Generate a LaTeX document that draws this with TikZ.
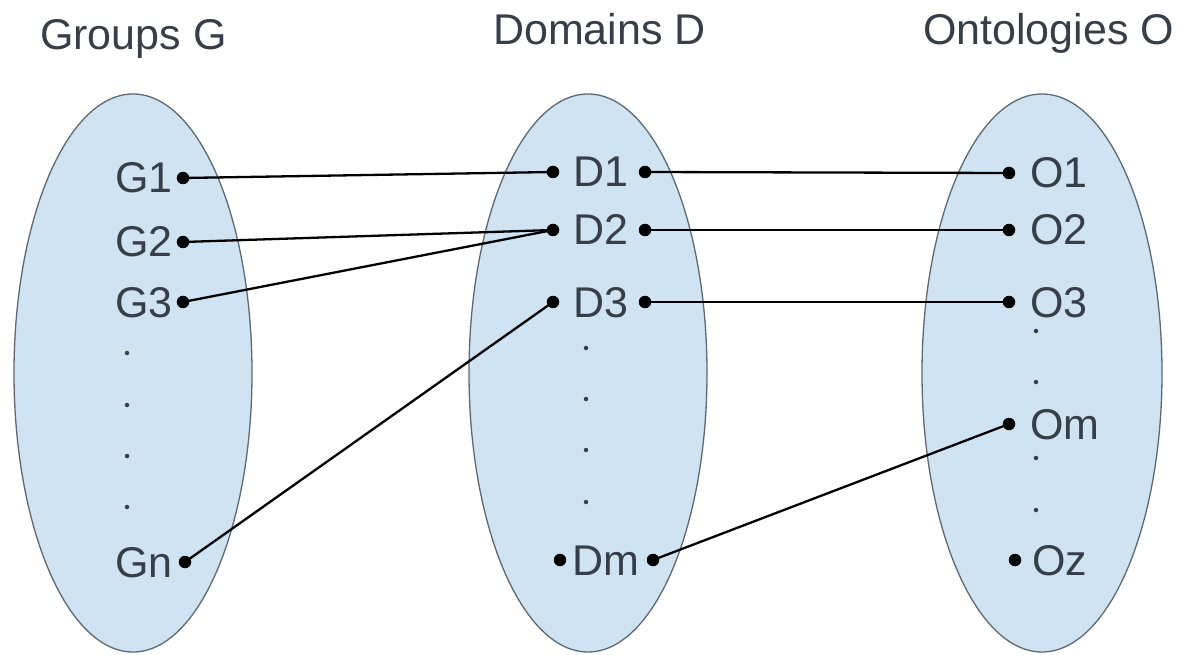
\documentclass[tikz,border=0pt]{standalone}
\usepackage{fontspec}
\setmainfont{Liberation Sans}
\usetikzlibrary{shapes.geometric}
\definecolor{setfill}{RGB}{207,227,243}
\definecolor{setedge}{RGB}{95,105,115}
\definecolor{txt}{RGB}{55,62,72}
\begin{document}
\begin{tikzpicture}[x=1pt,y=-1pt,
  setell/.style={ellipse,draw=setedge,line width=1.3pt,fill=setfill,inner sep=0pt,minimum width=238pt,minimum height=558pt},
  lbl/.style={anchor=base west,inner sep=0pt,text=txt,font=\fontsize{43}{50}\selectfont},
  pt/.style={circle,fill=black,inner sep=0pt,minimum size=12.5pt},
  ell/.style={circle,fill=txt,inner sep=0pt,minimum size=4.5pt},
  conn/.style={draw=black,line width=2.3pt}]
\useasboundingbox (0,0) rectangle (1179,655);
% sets
\node[setell] (SG) at (133,373) {};
\node[setell] (SD) at (588,373) {};
\node[setell,minimum width=240pt] (SO) at (1042,373) {};
% titles
\node[lbl] (tG) at (40,50) {Groups G};
\node[lbl] (tD) at (493,45) {Domains D};
\node[lbl] (tO) at (923,45) {Ontologies O};
% labels
\node[lbl] (lG1) at (115,193) {G1};
\node[lbl] (lG2) at (115,257) {G2};
\node[lbl] (lG3) at (115,317) {G3};
\node[lbl] (lGn) at (115,577) {Gn};
\node[lbl] (lD1) at (573,187) {D1};
\node[lbl] (lD2) at (573,245) {D2};
\node[lbl] (lD3) at (573,317) {D3};
\node[lbl] (lDm) at (572,575) {Dm};
\node[lbl] (lO1) at (1030,188) {O1};
\node[lbl] (lO2) at (1030,245) {O2};
\node[lbl] (lO3) at (1030,317) {O3};
\node[lbl] (lOm) at (1030,439) {Om};
\node[lbl] (lOz) at (1032,575) {Oz};
% ellipsis dots
\foreach \y [count=\i] in {353,405,456,507} \node[ell] (eG\i) at (127,\y) {};
\foreach \y [count=\i] in {348,399,450,502} \node[ell] (eD\i) at (586,\y) {};
\foreach \y [count=\i] in {331,382,458,510} \node[ell] (eO\i) at (1036,\y) {};
% connectors
\coordinate (G1) at (183,178);
\coordinate (G2) at (183,242);
\coordinate (G3) at (183,302);
\coordinate (Gn) at (185,562);
\coordinate (D1L) at (553,172);
\coordinate (D1R) at (645,172);
\coordinate (D2L) at (553,230);
\coordinate (D2R) at (645,230);
\coordinate (D3L) at (553,302);
\coordinate (D3R) at (645,302);
\coordinate (DmL) at (560,560);
\coordinate (DmR) at (653,560);
\coordinate (O1) at (1009,173);
\coordinate (O2) at (1009,230);
\coordinate (O3) at (1009,302);
\coordinate (Om) at (1009,424);
\coordinate (Oz) at (1015,560);
\draw[conn] (G1) -- (D1L);
\draw[conn] (G2) -- (D2L);
\draw[conn] (G3) -- (D2L);
\draw[conn] (Gn) -- (D3L);
\draw[conn] (D1R) -- (O1);
\draw[conn] (D2R) -- (O2);
\draw[conn] (D3R) -- (O3);
\draw[conn] (DmR) -- (Om);
% connection points
\foreach \p in {G1,G2,G3,Gn,D1L,D1R,D2L,D2R,D3L,D3R,DmL,DmR,O1,O2,O3,Om,Oz}
  \node[pt] (p\p) at (\p) {};
\end{tikzpicture}
\end{document}
